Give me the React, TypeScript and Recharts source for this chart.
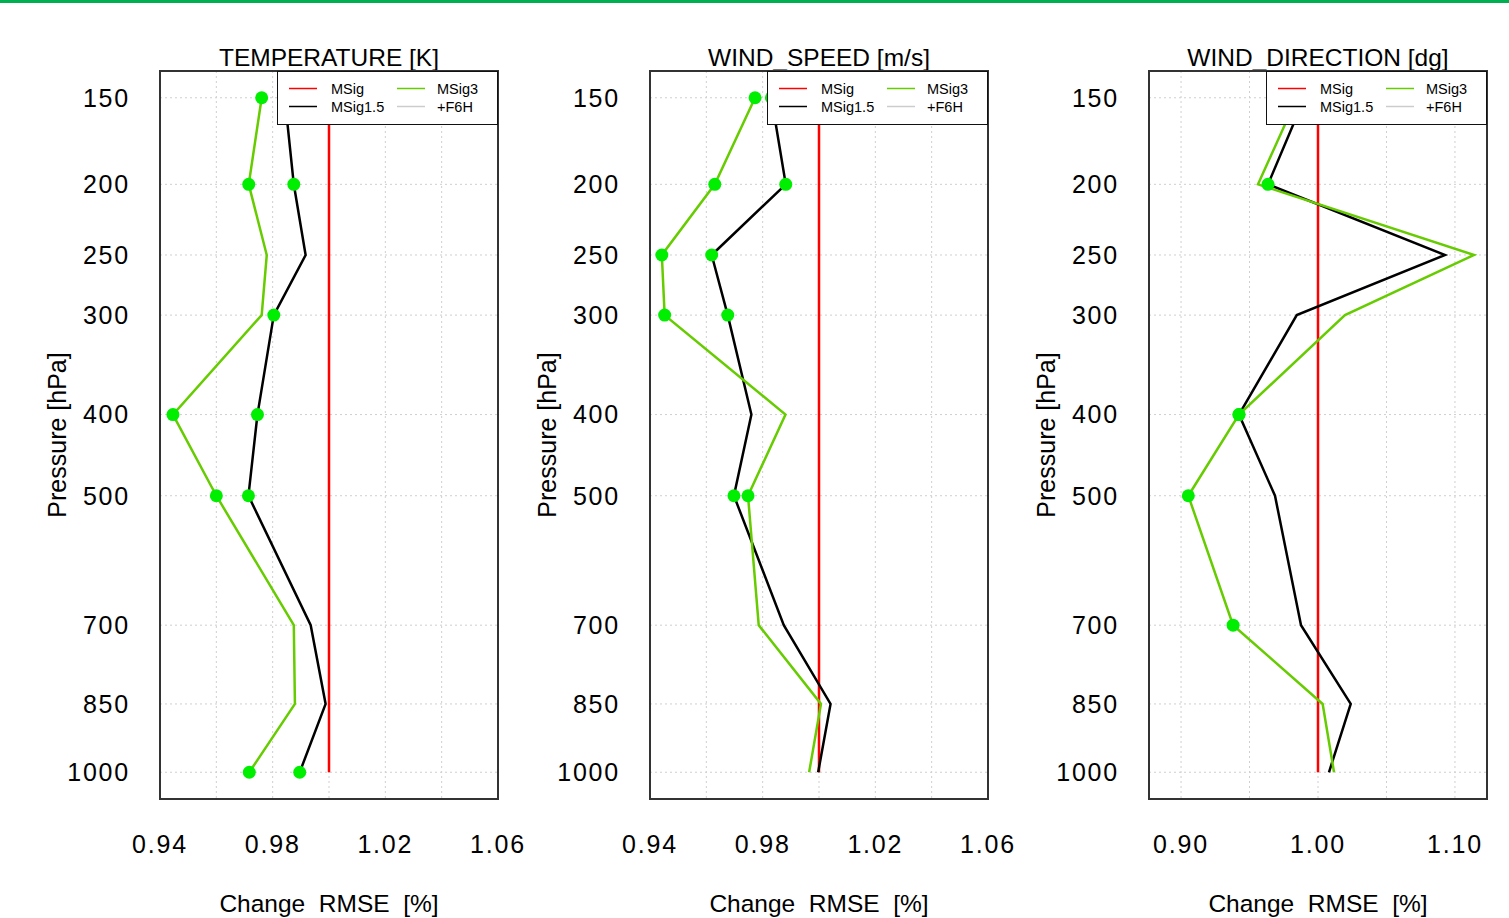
import React from 'react';
import {
  ScatterChart,
  Scatter,
  XAxis,
  YAxis,
  CartesianGrid,
  ReferenceArea,
} from 'recharts';

// pressure levels [hPa], top to bottom
const pressureLevels = [150, 200, 250, 300, 400, 500, 700, 850, 1000];
const msigRef = [1, 1, 1, 1, 1, 1, 1, 1, 1];

// TEMPERATURE [K]
const tempMSig15 = [0.9843, 0.9875, 0.9917, 0.9804, 0.9746, 0.9714, 0.9935, 0.9988, 0.9896];
const tempMSig3 = [0.9761, 0.9715, 0.9779, 0.9761, 0.9446, 0.96, 0.9875, 0.9879, 0.9717];
const tempSig15 = [0, 1, 0, 1, 1, 1, 0, 0, 1];
const tempSig3 = [1, 1, 0, 0, 1, 1, 0, 0, 1];

// WIND_SPEED [m/s]
const wsMSig15 = [0.9831, 0.9882, 0.9619, 0.9676, 0.976, 0.9698, 0.9875, 1.0041, 0.9997];
const wsMSig3 = [0.9773, 0.963, 0.9442, 0.9452, 0.9881, 0.9748, 0.9786, 1.0007, 0.9965];
const wsSig15 = [1, 1, 1, 1, 0, 1, 0, 0, 0];
const wsSig3 = [1, 1, 1, 1, 0, 1, 0, 0, 0];

// WIND_DIRECTION [dg]
const wdMSig15 = [0.9902, 0.9635, 1.0927, 0.9845, 0.9423, 0.9686, 0.9876, 1.0239, 1.008];
const wdMSig3 = [0.9847, 0.9562, 1.1139, 1.0197, 0.9423, 0.9053, 0.938, 1.0034, 1.0117];
const wdSig15 = [0, 1, 0, 0, 1, 0, 0, 0, 0];
const wdSig3 = [0, 0, 0, 0, 1, 1, 1, 0, 0];

const xTicksSpeed = [0.94, 0.96, 0.98, 1.0, 1.02, 1.04, 1.06];
const xLabelsSpeed = [0.94, 0.98, 1.02, 1.06];
const xTicksDir = [0.9, 0.95, 1.0, 1.05, 1.1];
const xLabelsDir = [0.9, 1.0, 1.1];

const FONT = '"Liberation Sans", Arial, Helvetica, sans-serif';
const EXP = 0.2; // vertical pressure axis is spaced as p^0.2
const yDomain = [2.6742, 4.0309];
const yTicks = pressureLevels.map((p) => Math.pow(p, EXP));

const toPoints = (vals: number[], sig?: number[]) =>
  vals.map((v, i) => ({ x: v, y: Math.pow(pressureLevels[i], EXP), sig: sig ? sig[i] : 0 }));

const noDot = () => <g />;
const sigDot = (props: any) => <circle cx={props.cx} cy={props.cy} r={6.5} fill="#00ee00" />;

const LegendBox = ({ left }: { left: number }) => (
  <div
    style={{
      position: 'absolute',
      left,
      top: 71,
      width: 221,
      height: 54,
      boxSizing: 'border-box',
      border: '1.5px solid #111',
      background: '#fff',
    }}
  >
    <svg width={218} height={51} style={{ position: 'absolute', left: 0, top: 0 }}>
      <g fontFamily={FONT} fontSize={14.5} fill="#000">
        <line x1={11} x2={39} y1={16.5} y2={16.5} stroke="#ff0000" strokeWidth={1.5} />
        <text x={53} y={17} dominantBaseline="central">MSig</text>
        <line x1={11} x2={39} y1={34.5} y2={34.5} stroke="#000" strokeWidth={1.5} />
        <text x={53} y={35} dominantBaseline="central">MSig1.5</text>
        <line x1={119} x2={147} y1={16.5} y2={16.5} stroke="#66cc00" strokeWidth={1.5} />
        <text x={159} y={17} dominantBaseline="central">MSig3</text>
        <line x1={119} x2={147} y1={34.5} y2={34.5} stroke="#cccccc" strokeWidth={1.5} />
        <text x={159} y={35} dominantBaseline="central">+F6H</text>
      </g>
    </svg>
  </div>
);

interface PanelProps {
  left: number;
  title: string;
  xDomain: number[];
  xTicks: number[];
  xLabels: number[];
  msig15: number[];
  msig3: number[];
  sig15: number[];
  sig3: number[];
}

const Panel: React.FC<PanelProps> = ({ left, title, xDomain, xTicks, xLabels, msig15, msig3, sig15, sig3 }) => {
  const ref = toPoints(msigRef);
  const black = toPoints(msig15, sig15);
  const green = toPoints(msig3, sig3);
  const fmtX = (v: number) =>
    xLabels.some((l) => Math.abs(l - v) < 1e-6) ? v.toFixed(2) : '';

  return (
    <div style={{ position: 'absolute', left, top: 0, width: 540, height: 918 }}>
      <div
        style={{
          position: 'absolute',
          left: 160,
          top: 43.5,
          width: 338,
          height: 28,
          lineHeight: '28px',
          textAlign: 'center',
          fontFamily: FONT,
          fontSize: 24.5,
          color: '#000',
          whiteSpace: 'nowrap',
        }}
      >
        {title}
      </div>
      <ScatterChart width={540} height={918} margin={{ top: 71, right: 42, bottom: 0, left: 0 }}>
        <CartesianGrid stroke="#cfcfcf" strokeDasharray="2 3" />
        <XAxis
          type="number"
          dataKey="x"
          domain={xDomain}
          allowDataOverflow
          ticks={xTicks}
          interval={0}
          tickFormatter={fmtX}
          height={119}
          axisLine={false}
          tickLine={false}
          tickSize={0}
          tickMargin={36}
          tick={{ fontSize: 25, fill: '#000', fontFamily: FONT, letterSpacing: 1.8 }}
          label={{
            value: 'Change\u00a0 RMSE\u00a0 [%]',
            position: 'insideBottom',
            offset: 6,
            fontSize: 24.5,
            fill: '#000',
            fontFamily: FONT,
          }}
        />
        <YAxis
          type="number"
          dataKey="y"
          domain={yDomain}
          allowDataOverflow
          reversed
          ticks={yTicks}
          interval={0}
          tickFormatter={(v: number) => String(Math.round(Math.pow(v, 1 / EXP)))}
          width={160}
          axisLine={false}
          tickLine={false}
          tickSize={0}
          tickMargin={30}
          tick={{ fontSize: 25, fill: '#000', fontFamily: FONT, letterSpacing: 1.8 }}
          label={{
            value: 'Pressure [hPa]',
            angle: -90,
            position: 'insideLeft',
            offset: 57,
            fontSize: 25,
            fill: '#000',
            fontFamily: FONT,
            style: { textAnchor: 'middle' },
          }}
        />
        <ReferenceArea
          x1={xDomain[0]}
          x2={xDomain[1]}
          y1={yDomain[0]}
          y2={yDomain[1]}
          fill="none"
          fillOpacity={0}
          stroke="#333"
          strokeWidth={2}
          ifOverflow="visible"
        />
        <Scatter data={ref} line={{ stroke: '#ff0000', strokeWidth: 2.5 }} shape={noDot} isAnimationActive={false} />
        <Scatter data={black} line={{ stroke: '#000', strokeWidth: 2.5 }} shape={noDot} isAnimationActive={false} />
        <Scatter data={green} line={{ stroke: '#66cc00', strokeWidth: 2.5 }} shape={noDot} isAnimationActive={false} />
        <Scatter data={black.filter((d) => d.sig)} shape={sigDot} isAnimationActive={false} />
        <Scatter data={green.filter((d) => d.sig)} shape={sigDot} isAnimationActive={false} />
      </ScatterChart>
      <LegendBox left={277} />
    </div>
  );
};

export default function App() {
  return (
    <div style={{ position: 'absolute', left: 0, top: 0, width: 1509, height: 918, background: '#fff', overflow: 'hidden' }}>
      <div style={{ position: 'absolute', left: 0, top: 0, width: 1509, height: 3, background: '#00b050' }} />
      <Panel
        left={0}
        title="TEMPERATURE [K]"
        xDomain={[0.94, 1.06]}
        xTicks={xTicksSpeed}
        xLabels={xLabelsSpeed}
        msig15={tempMSig15}
        msig3={tempMSig3}
        sig15={tempSig15}
        sig3={tempSig3}
      />
      <Panel
        left={490}
        title="WIND_SPEED [m/s]"
        xDomain={[0.94, 1.06]}
        xTicks={xTicksSpeed}
        xLabels={xLabelsSpeed}
        msig15={wsMSig15}
        msig3={wsMSig3}
        sig15={wsSig15}
        sig3={wsSig3}
      />
      <Panel
        left={989}
        title="WIND_DIRECTION [dg]"
        xDomain={[0.8766, 1.1234]}
        xTicks={xTicksDir}
        xLabels={xLabelsDir}
        msig15={wdMSig15}
        msig3={wdMSig3}
        sig15={wdSig15}
        sig3={wdSig3}
      />
    </div>
  );
}
